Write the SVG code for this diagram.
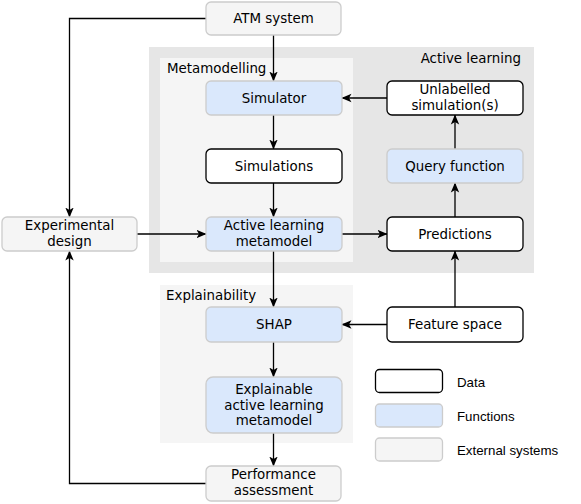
<svg xmlns="http://www.w3.org/2000/svg" width="581" height="504" viewBox="0 0 581 504">
<style>
text{font-family:"DejaVu Sans",Verdana,sans-serif;font-size:13.4px;fill:#000}
.c{text-anchor:middle}
.leg{font-family:"Liberation Sans",Arial,sans-serif;font-size:13.3px}
.data{fill:#fff;stroke:#000;stroke-width:1.3}
.fn{fill:#dae8fc;stroke:#cccccc;stroke-width:1.3}
.ext{fill:#f5f5f5;stroke:#cccccc;stroke-width:1.3}
.ln{fill:none;stroke:#000;stroke-width:1.3;marker-end:url(#ah)}
</style>
<defs>
<marker id="ah" viewBox="0 0 10 10" refX="9.5" refY="5" markerWidth="10" markerHeight="10" markerUnits="userSpaceOnUse" orient="auto">
<path d="M0,0.8 L10,5 L0,9.2 L2.5,5 Z" fill="#000"/>
</marker>
</defs>
<rect width="581" height="504" fill="#fff"/>
<g id="group-active-learning">
<rect x="149" y="47" width="385" height="226" fill="#e6e6e6"/>
<text x="521" y="63" text-anchor="end">Active learning</text>
</g>
<g id="group-metamodelling">
<rect x="160" y="58" width="193" height="204" fill="#f5f5f5"/>
<text x="167" y="73">Metamodelling</text>
</g>
<g id="group-explainability">
<rect x="160" y="285" width="193" height="158" fill="#f5f5f5"/>
<text x="166" y="300">Explainability</text>
</g>
<g id="connectors">
<path class="ln" d="M273.5,35 V81"/>
<path class="ln" d="M273.5,115 V149"/>
<path class="ln" d="M273.5,183 V217"/>
<path class="ln" d="M273.5,251 V307"/>
<path class="ln" d="M273.5,342 V377"/>
<path class="ln" d="M273.5,433 V466"/>
<path class="ln" d="M206,18.5 H69.5 V217"/>
<path class="ln" d="M206,483.5 H69.5 V251"/>
<path class="ln" d="M137,234 H206"/>
<path class="ln" d="M342,234 H387"/>
<path class="ln" d="M455,217 V183"/>
<path class="ln" d="M455,149 V115"/>
<path class="ln" d="M387,98 H342"/>
<path class="ln" d="M455,307 V251"/>
<path class="ln" d="M387,324.5 H342"/>
</g>
<g id="atm-system">
<rect class="ext" x="206" y="2" width="135" height="33" rx="5"/>
<text class="c" x="273.5" y="23">ATM system</text>
</g>
<g id="simulator">
<rect class="fn" x="206" y="81" width="136" height="34" rx="5"/>
<text class="c" x="274" y="102.5">Simulator</text>
</g>
<g id="simulations">
<rect class="data" x="206" y="149" width="136" height="34" rx="5"/>
<text class="c" x="274" y="170.5">Simulations</text>
</g>
<g id="al-metamodel">
<rect class="fn" x="206" y="217" width="136" height="34" rx="5"/>
<text class="c" x="274" y="229.5">Active learning</text>
<text class="c" x="274" y="245.5">metamodel</text>
</g>
<g id="experimental-design">
<rect class="ext" x="2" y="217" width="135" height="34" rx="5"/>
<text class="c" x="69.5" y="229.5">Experimental</text>
<text class="c" x="69.5" y="245.5">design</text>
</g>
<g id="unlabelled">
<rect class="data" x="387" y="81" width="136" height="34" rx="5"/>
<text class="c" x="455" y="94">Unlabelled</text>
<text class="c" x="455" y="110">simulation(s)</text>
</g>
<g id="query-function">
<rect class="fn" x="387" y="149" width="136" height="34" rx="5"/>
<text class="c" x="455" y="170.5">Query function</text>
</g>
<g id="predictions">
<rect class="data" x="387" y="217" width="136" height="34" rx="5"/>
<text class="c" x="455" y="238.5">Predictions</text>
</g>
<g id="shap">
<rect class="fn" x="206" y="307" width="136" height="35" rx="5"/>
<text class="c" x="274" y="329">SHAP</text>
</g>
<g id="feature-space">
<rect class="data" x="387" y="307" width="136" height="35" rx="5"/>
<text class="c" x="455" y="329">Feature space</text>
</g>
<g id="explainable-metamodel">
<rect class="fn" x="206" y="377" width="136" height="56" rx="7"/>
<text class="c" x="274" y="394">Explainable</text>
<text class="c" x="274" y="409.5">active learning</text>
<text class="c" x="274" y="425">metamodel</text>
</g>
<g id="performance-assessment">
<rect class="ext" x="206" y="466" width="135" height="35" rx="5"/>
<text class="c" x="273.5" y="479">Performance</text>
<text class="c" x="273.5" y="495">assessment</text>
</g>
<g id="legend">
<rect class="data" x="375.5" y="369.5" width="67" height="23" rx="4"/>
<text class="leg" x="457" y="387">Data</text>
<rect class="fn" x="375.5" y="404" width="67" height="23" rx="4"/>
<text class="leg" x="457" y="421">Functions</text>
<rect class="ext" x="375.5" y="438" width="67" height="23" rx="4"/>
<text class="leg" x="457" y="455">External systems</text>
</g>
</svg>
